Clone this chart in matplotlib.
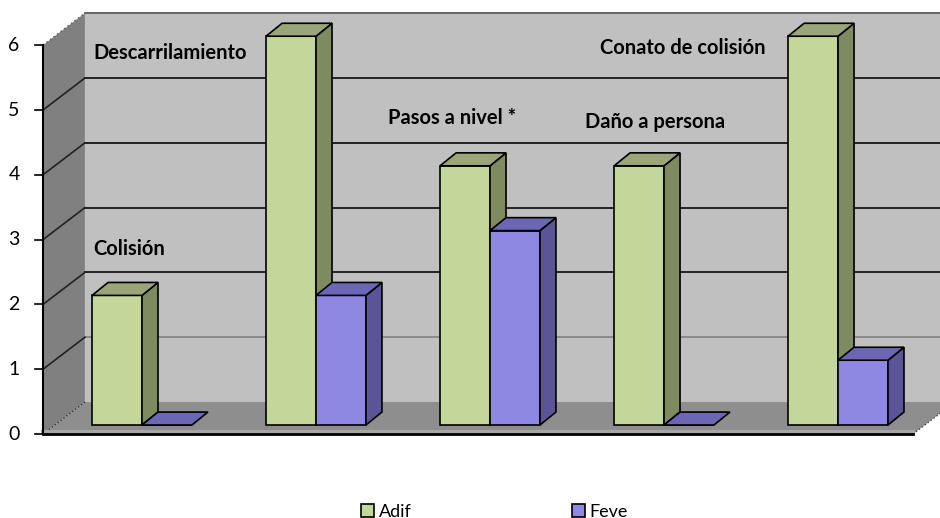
import matplotlib.pyplot as plt
from matplotlib.patches import Polygon

categories = ['Colisión', 'Descarrilamiento', 'Pasos a nivel *', 'Daño a persona', 'Conato de colisión']
adif = [2, 6, 4, 4, 6]
feve = [0, 2, 3, 0, 1]
series_names = ['Adif', 'Feve']
y_ticks = [0, 1, 2, 3, 4, 5, 6]

plt.rcParams['font.family'] = ['Lato', 'DejaVu Sans']

# colores: frente, lateral, tapa
green = ('#c4d79b', '#7e8a60', '#9aa678')
purple = ('#8e88e3', '#5b5497', '#6c67b5')

fig = plt.figure(figsize=(9.4, 5.18), dpi=100)
ax = fig.add_axes([0, 0, 1, 1])
ax.set_xlim(-0.747, 4.655)
ax.set_ylim(-1.296, 6.698)
ax.axis('off')

n = len(categories)
ymax = max(y_ticks)
DX, DY = 0.241, 0.494   # profundidad de la caja
BX, BY = 0.069, 0.139   # plano de las barras
TX, TY = 0.092, 0.20    # grosor de las barras
W = 0.287
x0, x1 = -0.5, n - 0.5

# paredes y suelo
ax.add_patch(Polygon([(x0 + DX, DY), (x0 + DX, ymax + DY), (x1 + DX + 0.2, ymax + DY),
                      (x1 + DX + 0.2, DY)], closed=True, fc='#c0c0c0', ec='none', zorder=0))
ax.add_patch(Polygon([(x0, 0), (x0, ymax), (x0 + DX, ymax + DY), (x0 + DX, DY)],
                     closed=True, fc='#808080', ec='none', zorder=0))
ax.add_patch(Polygon([(x0, 0), (x1, 0), (x1 + DX, DY), (x0 + DX, DY)],
                     closed=True, fc='#8e8e8e', ec='none', zorder=1))
ax.plot([x0, x1], [0.025, 0.025], color='#a6a6a6', lw=3, zorder=1.5)

# lineas de division
for v in y_ticks[1:]:
    c = '#222222' if 1 < v < ymax else ('#8a8a8a' if v == 1 else '#666666')
    ax.plot([x0 + DX, x1 + DX + 0.2], [v + DY, v + DY], color=c, lw=1.4, zorder=0.5)
    ax.plot([x0, x0 + DX], [v, v + DY], color='#222222' if v < ymax else '#666666',
            lw=1.2, ls='-' if v < ymax else ':', zorder=0.5)
ax.plot([x0, x0 + DX], [0, DY], color='#333333', lw=1, ls=':', zorder=1.2)
ax.plot([x1, x1 + DX], [0, DY], color='#444444', lw=1, ls=':', zorder=1.2)

# eje vertical
ax.plot([x0, x0], [0, ymax], color='black', lw=1.5, zorder=2)
ax.plot([x0, x1], [0, 0], color='black', lw=2, zorder=2)
for v in y_ticks:
    ax.plot([x0 - 0.045, x0], [v, v], color='black', lw=1.2, zorder=2)
    ax.text(-0.667, v, str(v), ha='center', va='center', fontsize=14, color='black')


def bars_3d(xs, vals, cols, label, z):
    cont = ax.bar([x + BX for x in xs], vals, width=W, bottom=BY, align='edge',
                  color=cols[0], edgecolor='black', linewidth=1.2, label=label, zorder=z)
    for x, v in zip(xs, vals):
        xl = x + BX
        xr = xl + W
        top = BY + v
        if v > 0:
            ax.add_patch(Polygon([(xr, BY), (xr, top), (xr + TX, top + TY), (xr + TX, BY + TY)],
                                 closed=True, fc=cols[1], ec='black', lw=1.2, zorder=z))
        ax.add_patch(Polygon([(xl, top), (xr, top), (xr + TX, top + TY), (xl + TX, top + TY)],
                             closed=True, fc=cols[2], ec='black', lw=1.2, zorder=z + 0.1))
    return cont


for i in range(n):
    bars_3d([i - W], [adif[i]], green, series_names[0] if i == 0 else None, 3)
    bars_3d([i], [feve[i]], purple, series_names[1] if i == 0 else None, 4)

# etiquetas de categoria sobre la pared
label_pos = [(-0.213, 2.85), (-0.213, 5.88), (1.483, 4.88), (2.615, 4.82), (2.701, 5.96)]
for txt, (lx, ly) in zip(categories, label_pos):
    ax.text(lx, ly, txt, ha='left', va='center', fontsize=14.5, fontweight='bold', color='black')

ax.legend(loc='center', bbox_to_anchor=(0.526, 0.012), ncol=2, frameon=False, fontsize=13,
          handlelength=0.7, handleheight=0.7, handletextpad=0.25, columnspacing=8.9)

fig.savefig('out.png', dpi=100)
plt.close(fig)
